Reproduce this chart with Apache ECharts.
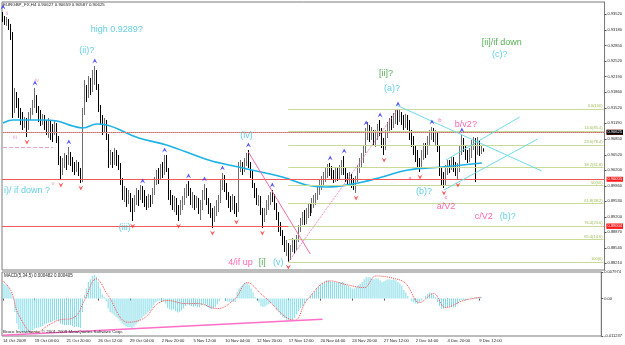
<!DOCTYPE html>
<html>
<head>
<meta charset="utf-8">
<script src="https://cdn.jsdelivr.net/npm/echarts@6/dist/echarts.min.js"></script>
<style>
    html, body {margin: 0; padding: 0; background: #fff;}
    #chart {width: 625px; height: 345px;}
</style>
</head>
<body>
<div id="chart"></div>
<script>
// EURGBP H4 bars, one entry per bar: [open, close, low, high]
var bars = [
    [0.93499,0.93435,0.93349,0.93562],[0.93435,0.93349,0.93286,0.93477],[0.93349,0.93392,0.93264,0.93456],
    [0.93392,0.93264,0.93179,0.93413],[0.93264,0.93051,0.92966,0.93307],[0.93051,0.91475,0.91305,0.93136],
    [0.91475,0.91795,0.91411,0.91944],[0.91795,0.91688,0.91518,0.91858],[0.91688,0.91432,0.91305,0.91731],
    [0.91432,0.91305,0.91156,0.91518],[0.91305,0.91156,0.91049,0.91432],[0.91156,0.91262,0.91092,0.91326],
    [0.91262,0.91092,0.90900,0.91305],[0.91092,0.91305,0.91049,0.91432],[0.91305,0.91432,0.91262,0.91518],
    [0.91432,0.91582,0.91369,0.91688],[0.91582,0.91731,0.91518,0.91944],[0.91731,0.91475,0.91411,0.91795],
    [0.91475,0.91369,0.91219,0.91560],[0.91369,0.91262,0.91134,0.91475],[0.91262,0.91305,0.91156,0.91390],
    [0.91305,0.91156,0.91049,0.91369],[0.91156,0.91049,0.90943,0.91262],[0.91049,0.91219,0.90879,0.91305],
    [0.91219,0.91092,0.90836,0.91262],[0.91092,0.91006,0.90793,0.91177],[0.91006,0.91156,0.90943,0.91262],
    [0.91156,0.90879,0.90772,0.91198],[0.90879,0.90410,0.90304,0.90921],[0.90410,0.90154,0.89984,0.90495],
    [0.90154,0.90304,0.90091,0.90453],[0.90304,0.90453,0.90240,0.90559],[0.90453,0.90367,0.90197,0.90517],
    [0.90367,0.90517,0.90304,0.90687],[0.90517,0.90410,0.90282,0.90580],[0.90410,0.90282,0.90154,0.90474],
    [0.90282,0.90197,0.90091,0.90367],[0.90197,0.90346,0.90154,0.90410],[0.90346,0.90154,0.90069,0.90367],
    [0.90154,0.90027,0.89920,0.90240],[0.90027,0.91432,0.89941,0.91518],[0.91432,0.91901,0.91369,0.92114],
    [0.91901,0.91795,0.91645,0.92008],[0.91795,0.92071,0.91731,0.92199],[0.92071,0.91944,0.91795,0.92157],
    [0.91944,0.92221,0.91858,0.92327],[0.92221,0.92284,0.92008,0.92412],[0.92284,0.92008,0.91901,0.92327],
    [0.92008,0.91518,0.91432,0.92029],[0.91518,0.91305,0.91156,0.91582],[0.91305,0.91092,0.90943,0.91369],
    [0.91092,0.91219,0.91006,0.91305],[0.91219,0.90943,0.90836,0.91262],[0.90943,0.90410,0.90240,0.90964],
    [0.90410,0.90517,0.90304,0.90623],[0.90517,0.90367,0.90240,0.90580],[0.90367,0.90580,0.90304,0.90666],
    [0.90580,0.90453,0.90282,0.90623],[0.90453,0.90304,0.90197,0.90517],[0.90304,0.89984,0.89878,0.90346],
    [0.89984,0.89665,0.89558,0.90027],[0.89665,0.89728,0.89515,0.89856],[0.89728,0.89558,0.89409,0.89814],
    [0.89558,0.89665,0.89473,0.89771],[0.89665,0.89452,0.89302,0.89707],[0.89452,0.89345,0.89111,0.89601],
    [0.89345,0.89558,0.89302,0.89665],[0.89558,0.89707,0.89452,0.89814],[0.89707,0.89601,0.89430,0.89771],
    [0.89601,0.89771,0.89558,0.89878],[0.89771,0.89686,0.89494,0.89856],[0.89686,0.89558,0.89409,0.89771],
    [0.89558,0.89452,0.89345,0.89643],[0.89452,0.89601,0.89388,0.89686],[0.89601,0.89515,0.89409,0.89665],
    [0.89515,0.89728,0.89473,0.89814],[0.89728,0.89941,0.89665,0.90048],[0.89941,0.90091,0.89878,0.90197],
    [0.90091,0.90027,0.89899,0.90240],[0.90027,0.90240,0.89984,0.90325],[0.90240,0.90154,0.90027,0.90367],
    [0.90154,0.90410,0.90091,0.90517],[0.90410,0.90197,0.90154,0.90517],[0.90197,0.89665,0.89558,0.90240],
    [0.89665,0.89601,0.89452,0.89771],[0.89601,0.89452,0.89345,0.89665],[0.89452,0.89558,0.89302,0.89643],
    [0.89558,0.89345,0.89239,0.89601],[0.89345,0.89302,0.89111,0.89452],[0.89302,0.89452,0.89239,0.89558],
    [0.89452,0.89558,0.89345,0.89643],[0.89558,0.89707,0.89452,0.89814],[0.89707,0.89814,0.89601,0.89899],
    [0.89814,0.89728,0.89643,0.89963],[0.89728,0.89558,0.89452,0.89814],[0.89558,0.89601,0.89388,0.89728],
    [0.89601,0.89452,0.89345,0.89665],[0.89452,0.89558,0.89388,0.89643],[0.89558,0.89345,0.89260,0.89601],
    [0.89345,0.89452,0.89132,0.89558],[0.89452,0.89665,0.89345,0.89771],[0.89665,0.89771,0.89558,0.89899],
    [0.89771,0.89558,0.89452,0.89814],[0.89558,0.89388,0.89260,0.89601],[0.89388,0.89302,0.89175,0.89494],
    [0.89302,0.89175,0.88962,0.89388],[0.89175,0.89302,0.89089,0.89430],[0.89302,0.89388,0.89217,0.89558],
    [0.89388,0.89558,0.89302,0.89665],[0.89558,0.89878,0.89494,0.89984],[0.89878,0.90027,0.89771,0.90133],
    [0.90027,0.89878,0.89728,0.90091],[0.89878,0.89665,0.89558,0.89920],[0.89665,0.89558,0.89388,0.89728],
    [0.89558,0.89452,0.89302,0.89643],[0.89452,0.89601,0.89345,0.89686],[0.89601,0.89388,0.89260,0.89643],
    [0.89388,0.89345,0.89196,0.89494],[0.89345,0.90240,0.89302,0.90367],[0.90240,0.90304,0.90154,0.90410],
    [0.90304,0.90197,0.90091,0.90367],[0.90197,0.90367,0.90154,0.90453],[0.90367,0.90453,0.90282,0.90559],
    [0.90453,0.90304,0.90240,0.90623],[0.90304,0.90154,0.90027,0.90367],[0.90154,0.89878,0.89814,0.90197],
    [0.89878,0.89728,0.89601,0.89920],[0.89728,0.89558,0.89452,0.89814],[0.89558,0.89601,0.89430,0.89665],
    [0.89601,0.89345,0.89239,0.89643],[0.89345,0.89175,0.88962,0.89388],[0.89175,0.89302,0.89089,0.89388],
    [0.89302,0.89452,0.89239,0.89558],[0.89452,0.89558,0.89345,0.89665],[0.89558,0.89665,0.89452,0.89728],
    [0.89665,0.89601,0.89515,0.89771],[0.89601,0.89452,0.89345,0.89686],[0.89452,0.89239,0.89132,0.89494],
    [0.89239,0.89026,0.88876,0.89302],[0.89026,0.88876,0.88791,0.89089],[0.88876,0.88706,0.88600,0.88919],
    [0.88706,0.88536,0.88450,0.88791],[0.88536,0.88600,0.88365,0.88706],[0.88600,0.88387,0.88237,0.88642],
    [0.88387,0.88493,0.88280,0.88600],[0.88493,0.88642,0.88450,0.88749],[0.88642,0.88557,0.88408,0.88706],
    [0.88557,0.88749,0.88493,0.88813],[0.88749,0.88962,0.88663,0.89026],[0.88962,0.89089,0.88876,0.89175],
    [0.89089,0.89239,0.89026,0.89302],[0.89239,0.89132,0.89026,0.89345],[0.89132,0.89302,0.89047,0.89388],
    [0.89302,0.89388,0.89175,0.89473],[0.89388,0.89345,0.89217,0.89494],[0.89345,0.89494,0.89281,0.89601],
    [0.89494,0.89558,0.89388,0.89665],[0.89558,0.89622,0.89452,0.89707],[0.89622,0.89771,0.89558,0.89856],
    [0.89771,0.89878,0.89665,0.89984],[0.89878,0.89984,0.89771,0.90069],[0.89984,0.90027,0.89856,0.90154],
    [0.90027,0.90154,0.89941,0.90240],[0.90154,0.90240,0.90027,0.90325],[0.90240,0.90197,0.90069,0.90346],
    [0.90197,0.90091,0.89984,0.90282],[0.90091,0.90027,0.89920,0.90197],[0.90027,0.90154,0.89941,0.90240],
    [0.90154,0.90069,0.89963,0.90240],[0.90069,0.90197,0.89984,0.90304],[0.90197,0.90304,0.90091,0.90410],
    [0.90304,0.90197,0.90091,0.90495],[0.90197,0.90027,0.89941,0.90240],[0.90027,0.89984,0.89856,0.90133],
    [0.89984,0.90069,0.89899,0.90154],[0.90069,0.89941,0.89814,0.90112],[0.89941,0.89878,0.89771,0.90027],
    [0.89878,0.89984,0.89707,0.90069],[0.89984,0.90197,0.89941,0.90304],[0.90197,0.90367,0.90133,0.90453],
    [0.90367,0.90410,0.90240,0.90559],[0.90410,0.90623,0.90346,0.90730],[0.90623,0.90943,0.90559,0.91092],
    [0.90943,0.91092,0.90836,0.91219],[0.91092,0.90943,0.90793,0.91156],[0.90943,0.91006,0.90836,0.91113],
    [0.91006,0.90836,0.90730,0.91049],[0.90836,0.90943,0.90687,0.91049],[0.90943,0.91092,0.90836,0.91177],
    [0.91092,0.91049,0.90921,0.91262],[0.91049,0.90793,0.90666,0.91092],[0.90793,0.90730,0.90517,0.90879],
    [0.90730,0.90943,0.90623,0.91049],[0.90943,0.91092,0.90879,0.91219],[0.91092,0.91219,0.91006,0.91305],
    [0.91219,0.91156,0.91049,0.91347],[0.91156,0.91305,0.91092,0.91411],[0.91305,0.91369,0.91177,0.91475],
    [0.91369,0.91305,0.91156,0.91496],[0.91305,0.91411,0.91219,0.91496],[0.91411,0.91262,0.91156,0.91432],
    [0.91262,0.91156,0.91049,0.91369],[0.91156,0.91305,0.91092,0.91390],[0.91305,0.91219,0.91049,0.91369],
    [0.91219,0.90943,0.90836,0.91262],[0.90943,0.90836,0.90687,0.91049],[0.90836,0.90623,0.90517,0.90921],
    [0.90623,0.90517,0.90367,0.90730],[0.90517,0.90367,0.90240,0.90623],[0.90367,0.90304,0.90154,0.90453],
    [0.90304,0.90517,0.90240,0.90623],[0.90517,0.90666,0.90410,0.90772],[0.90666,0.90623,0.90453,0.90772],
    [0.90623,0.90836,0.90517,0.90921],[0.90836,0.90943,0.90730,0.91049],[0.90943,0.91006,0.90836,0.91113],
    [0.91006,0.90879,0.90793,0.91092],[0.90879,0.90943,0.90730,0.91049],[0.90943,0.90666,0.90580,0.90985],
    [0.90666,0.90197,0.90069,0.90708],[0.90197,0.90027,0.89878,0.90240],[0.90027,0.89920,0.89814,0.90154],
    [0.89920,0.90154,0.89878,0.90304],[0.90154,0.90304,0.90091,0.90410],[0.90304,0.90240,0.90133,0.90410],
    [0.90240,0.90410,0.90197,0.90474],[0.90410,0.90304,0.90154,0.90474],[0.90304,0.90154,0.90069,0.90367],
    [0.90154,0.90197,0.89984,0.90346],[0.90197,0.90623,0.90154,0.90730],[0.90623,0.90793,0.90517,0.90943],
    [0.90793,0.90666,0.90580,0.90879],[0.90666,0.90517,0.90410,0.90730],[0.90517,0.90410,0.90346,0.90623],
    [0.90410,0.90580,0.90367,0.90666],[0.90580,0.90730,0.90453,0.90836],[0.90730,0.90836,0.90623,0.90900],
    [0.90836,0.90666,0.89941,0.90879],[0.90666,0.90793,0.90517,0.90900],[0.90793,0.90623,0.90495,0.90836],
    [0.90623,0.90666,0.90538,0.90730],[0.90627,0.90625,0.90587,0.90659]
];

// moving average, [bar index, value]
var maPoints = [
    [0,0.91198],[5,0.91262],[20,0.91262],[27,0.91241],[35,0.91134],[40,0.91092],[47,0.91177],
    [52,0.91156],[68,0.90879],[82,0.90730],[103,0.90410],[118,0.90261],[140,0.90048],[152,0.89878],
    [162,0.89835],[178,0.89920],[190,0.90048],[203,0.90197],[220,0.90261],[240,0.90346]
];

// MACD(5,34,5) main values, one per bar
var macdHist = [
    0.0045,0.0042,0.0040,0.0033,0.0020,0.0005,
    -0.0040,-0.0075,-0.0092,-0.0098,-0.0100,-0.0101,
    -0.0102,-0.0100,-0.0098,-0.0095,-0.0090,-0.0088,
    -0.0087,-0.0085,-0.0082,-0.0078,-0.0075,-0.0072,
    -0.0070,-0.0068,-0.0066,-0.0065,-0.0068,-0.0075,
    -0.0078,-0.0080,-0.0080,-0.0079,-0.0080,-0.0082,
    -0.0085,-0.0084,-0.0086,-0.0088,-0.0040,0.0010,
    0.0030,0.0050,0.0058,0.0068,0.0070,0.0066,
    0.0050,0.0030,0.0012,0.0005,-0.0008,-0.0030,
    -0.0040,-0.0045,-0.0050,-0.0055,-0.0060,-0.0068,
    -0.0075,-0.0080,-0.0084,-0.0085,-0.0086,-0.0088,
    -0.0084,-0.0078,-0.0072,-0.0065,-0.0058,-0.0052,
    -0.0048,-0.0042,-0.0038,-0.0030,-0.0020,-0.0012,
    -0.0008,-0.0006,-0.0010,-0.0008,-0.0015,-0.0028,
    -0.0032,-0.0035,-0.0033,-0.0038,-0.0042,-0.0040,
    -0.0036,-0.0030,-0.0022,-0.0018,-0.0020,-0.0022,
    -0.0024,-0.0022,-0.0025,-0.0026,-0.0020,-0.0016,
    -0.0020,-0.0025,-0.0028,-0.0032,-0.0030,-0.0026,
    -0.0018,-0.0008,0.0002,0.0000,-0.0006,-0.0008,
    -0.0010,-0.0008,-0.0010,-0.0010,0.0020,0.0030,
    0.0036,0.0042,0.0046,0.0048,0.0042,0.0030,
    0.0018,0.0005,-0.0003,-0.0012,-0.0022,-0.0025,
    -0.0024,-0.0020,-0.0016,-0.0014,-0.0018,-0.0025,
    -0.0035,-0.0042,-0.0050,-0.0056,-0.0058,-0.0064,
    -0.0066,-0.0065,-0.0064,-0.0058,-0.0048,-0.0038,
    -0.0028,-0.0022,-0.0014,-0.0006,0.0002,0.0010,
    0.0016,0.0022,0.0030,0.0036,0.0042,0.0046,
    0.0050,0.0054,0.0054,0.0052,0.0050,0.0050,
    0.0048,0.0048,0.0050,0.0050,0.0045,0.0040,
    0.0038,0.0034,0.0030,0.0030,0.0034,0.0040,
    0.0044,0.0050,0.0058,0.0064,0.0064,0.0065,
    0.0060,0.0058,0.0060,0.0060,0.0055,0.0050,
    0.0052,0.0055,0.0058,0.0058,0.0056,0.0058,
    0.0055,0.0050,0.0046,0.0038,0.0026,0.0018,
    0.0008,0.0000,-0.0008,-0.0012,-0.0015,-0.0016,
    -0.0012,-0.0006,0.0000,0.0008,0.0014,0.0018,
    0.0016,0.0012,0.0004,-0.0010,-0.0022,-0.0030,
    -0.0030,-0.0028,-0.0026,-0.0026,-0.0025,-0.0026,
    -0.0026,-0.0018,-0.0008,-0.0004,-0.0004,-0.0006,
    -0.0004,0.0000,0.0003,0.0002,0.0004,0.0004,
    0.0005,0.0005
];

// MACD signal line, [bar index, value]
var macdSignal = [
    [0,0.0053],[4,0.0024],[8,-0.0050],[16,-0.0104],[23,-0.0080],[28,-0.0065],[36,-0.0056],
    [41,-0.0006],[47,0.0059],[53,0.0009],[63,-0.0071],[71,-0.0059],[78,-0.0015],[83,-0.0006],
    [92,-0.0015],[98,-0.0015],[108,-0.0030],[117,0.0000],[123,0.0048],[131,0.0009],[147,-0.0065],
    [153,-0.0006],[165,0.0053],[173,0.0042],[182,0.0033],[188,0.0068],[198,0.0059],[203,0.0045],
    [210,-0.0012],[217,0.0015],[223,-0.0027],[232,-0.0006],[241,0.0004]
];

var dateLabels = ['14 Oct 2009', '19 Oct 04:00', '21 Oct 20:00', '26 Oct 12:00', '29 Oct 04:00',
    '2 Nov 20:00', '5 Nov 12:00', '10 Nov 04:00', '12 Nov 20:00', '17 Nov 12:00', '20 Nov 04:00',
    '24 Nov 20:00', '27 Nov 12:00', '2 Dec 04:00', '4 Dec 20:00', '9 Dec 12:00'];
var priceTicks = [0.93520, 0.93180, 0.92850, 0.92520, 0.92190, 0.91860, 0.91520, 0.91190, 0.90850,
    0.90520, 0.90200, 0.89860, 0.89530, 0.89200, 0.88870, 0.88540, 0.88210];
var macdTicks = [0.007974, 0, -0.011237];

var redLevels = [0.90879, 0.90005, 0.89473, 0.89004];
var bidPrice = 0.90625;
var fibValues = [0.91496, 0.91020, 0.90727, 0.90251, 0.89867, 0.89482, 0.89006, 0.88713, 0.88237];
var fibNames = ['0.0(100)', '14.6(85.4)', '23.6(76.4)', '38.2(61.8)', '50(50)', '61.8(38.2)',
    '76.4(23.6)', '85.4(14.6)', '100(0)'];

// fractal bars
var fractalUp = [0, 16, 33, 46, 70, 81, 93, 101, 110, 123, 135, 164, 171, 182, 189, 198, 215, 230];
var fractalDown = [12, 29, 39, 65, 88, 105, 117, 130, 143, 177, 191, 209, 221, 228];

// wave labels: text, bar index, price, style
var notes = [
    ['ii', 2, 0.93540, 'pl'], ['high 0.9289?', 56.5, 0.93179, 'c'], ['(ii)?', 42, 0.92732, 'c'],
    ['iv', 16.5, 0.92114, 'pl'], ['iii', 6, 0.90900, 'pl'], ['v', 24.5, 0.89920, 'pl'],
    ['i)/ if down ?', 11.5, 0.89750, 'c'], ['(iii)', 60.5, 0.88962, 'c'], ['(iv)', 121.5, 0.90921, 'c'],
    ['4/if up', 118.5, 0.88216, 'p'], ['[i]', 129.5, 0.88216, 'g'], ['(v)', 138, 0.88216, 'c'],
    ['[ii]?', 191.5, 0.92242, 'g'], ['(a)?', 194.5, 0.91922, 'c'], ['[ii]/if down', 249.5, 0.92902, 'g'],
    ['(c)?', 248.5, 0.92646, 'c'], ['b', 218.5, 0.91262, 'ps'], ['b/v2?', 232, 0.91156, 'p'],
    ['a', 204, 0.90027, 'ps'], ['(b)?', 210.5, 0.89728, 'c'], ['c', 221.5, 0.89622, 'ps'],
    ['a/V2', 222, 0.89409, 'p'], ['c/V2', 241, 0.89196, 'p'], ['(b)?', 252.5, 0.89196, 'c']
];

// drawn trend lines: from, to, colour, style
var trendLines = [
    [[123, 0.90580], [154, 0.88408], '#f06cb0', 'solid'],
    [[143, 0.88237], [198, 0.91496], '#f06cb0', 'dotted'],
    [[197, 0.91582], [270, 0.90176], '#70dce8', 'solid'],
    [[221, 0.89771], [268, 0.90857], '#70dce8', 'solid'],
    [[222, 0.90410], [259, 0.91326], '#70dce8', 'solid'],
    [[0, 0.90687], [25, 0.90687], '#f0a0cc', 'dashed']
];
var macdTrend = [[0, -0.0110], [161, -0.0062]];

var font = '"Liberation Sans", Arial, sans-serif';
var slots = [];
for (var k = 0; k < 302; k++) slots.push(String(k));

var noteStyle = {
    c:  {color: '#3cc3dc', fontSize: 9},
    g:  {color: '#2d992d', fontSize: 9},
    p:  {color: '#ff3c9c', fontSize: 9},
    ps: {color: '#ff3c9c', fontSize: 6},
    pl: {color: '#ee88c4', fontSize: 6}
};

var lineMarks = [];
redLevels.forEach(function (v) {
    lineMarks.push({
        yAxis: v,
        lineStyle: {color: '#f25a5a', width: 1, type: 'solid'},
        label: {show: true, position: 'end', distance: 2, formatter: v.toFixed(5),
            backgroundColor: '#ff1a1a', color: '#fff', fontSize: 4, fontFamily: font, padding: [1, 1, 0, 1]}
    });
});
lineMarks.push({
    yAxis: bidPrice,
    lineStyle: {color: '#b0b0b0', width: 1, type: 'dotted'},
    label: {show: true, position: 'end', distance: 2, formatter: bidPrice.toFixed(5),
        backgroundColor: '#000', color: '#fff', fontSize: 4, fontFamily: font, padding: [1, 1, 0, 1]}
});
fibValues.forEach(function (v, n) {
    lineMarks.push([
        {coord: [143, v], lineStyle: {color: '#c8dc98', width: 1, type: 'solid'},
         label: {show: true, position: 'insideEndTop', distance: 1, formatter: fibNames[n],
            color: '#9cbc50', fontSize: 4, fontFamily: font}},
        {coord: [301, v]}
    ]);
});
trendLines.forEach(function (t) {
    lineMarks.push([
        {coord: t[0], lineStyle: {color: t[2], width: 1, type: t[3]}, label: {show: false}},
        {coord: t[1]}
    ]);
});

var option = {
    animation: false,
    backgroundColor: '#ffffff',
    textStyle: {fontFamily: font},
    grid: [
        {left: 2, top: 2, width: 605, height: 268, show: true, borderColor: '#7a7a7a', borderWidth: 1},
        {left: 2, top: 272, width: 605, height: 64, show: true, borderColor: '#7a7a7a', borderWidth: 1}
    ],
    graphic: [
        {type: 'text', left: 3, top: 3, z: 10,
         style: {text: 'EURGBP_FX,H4 0.90627 0.90659 0.90587 0.90625', fill: '#222', font: '4.4px ' + font}},
        {type: 'text', left: 4, top: 273, z: 10,
         style: {text: 'MACD(5,34,5) 0.000482 0.000405', fill: '#222', font: '4.5px ' + font}},
        {type: 'text', left: 3, top: 330, z: 10,
         style: {text: 'Broco Investments, \u00a9 2001-2009 MetaQuotes Software Corp.', fill: '#222', font: '4.4px ' + font}}
    ],
    xAxis: [
        {type: 'category', gridIndex: 0, data: slots, boundaryGap: true,
         axisLine: {show: false}, axisTick: {show: false}, axisLabel: {show: false}, splitLine: {show: false}},
        {type: 'category', gridIndex: 1, data: slots, boundaryGap: true,
         axisLine: {show: false},
         axisTick: {show: true, alignWithLabel: true, length: 2, lineStyle: {color: '#555'},
            interval: function (idx) { return idx % 16 === 0 && idx / 16 < dateLabels.length; }},
         axisLabel: {show: true, align: 'left', margin: 3, fontSize: 4.2, color: '#222',
            interval: function (idx) { return idx % 16 === 0 && idx / 16 < dateLabels.length; },
            formatter: function (v, idx) { return dateLabels[idx / 16] || ''; }},
         splitLine: {show: false}}
    ],
    yAxis: [
        {type: 'value', gridIndex: 0, position: 'right', min: 0.88067, max: 0.93775,
         axisLine: {show: true, lineStyle: {color: '#7a7a7a'}},
         axisTick: {show: true, length: 2, customValues: priceTicks, lineStyle: {color: '#555'}},
         axisLabel: {customValues: priceTicks, margin: 3, fontSize: 4, color: '#222',
            formatter: function (v) { return v.toFixed(5); }},
         splitLine: {show: false}},
        {type: 'value', gridIndex: 1, position: 'right', min: -0.011237, max: 0.007974,
         axisLine: {show: true, lineStyle: {color: '#7a7a7a'}},
         axisTick: {show: true, length: 2, customValues: macdTicks, lineStyle: {color: '#555'}},
         axisLabel: {customValues: macdTicks, margin: 3, fontSize: 4, color: '#222',
            formatter: function (v) { return v === 0 ? '0.00' : v.toFixed(6); }},
         splitLine: {show: false}}
    ],
    series: [
        {
            name: 'levels', type: 'line', xAxisIndex: 0, yAxisIndex: 0, data: [], z: 4,
            markLine: {silent: true, symbol: ['none', 'none'], animation: false, data: lineMarks}
        },
        {
            name: 'EURGBP', type: 'candlestick', xAxisIndex: 0, yAxisIndex: 0,
            data: bars, barWidth: 1, z: 3,
            itemStyle: {color: '#bdbdbd', color0: '#000', borderColor: '#6e6e6e', borderColor0: '#000', borderWidth: 1}
        },
        {
            name: 'MA', type: 'line', xAxisIndex: 0, yAxisIndex: 0, data: maPoints,
            smooth: 0.4, showSymbol: false, z: 4,
            lineStyle: {color: '#1cb2e6', width: 1.6}
        },
        {
            name: 'fractal up', type: 'scatter', xAxisIndex: 0, yAxisIndex: 0, z: 5,
            data: fractalUp.map(function (i) { return [i, bars[i][3]]; }),
            symbol: 'path://M0,10 L5,0 L10,10 L5,6 Z', symbolSize: [5, 5], symbolOffset: [0, -5],
            itemStyle: {color: '#2a2aff'}
        },
        {
            name: 'fractal down', type: 'scatter', xAxisIndex: 0, yAxisIndex: 0, z: 5,
            data: fractalDown.map(function (i) { return [i, bars[i][2]]; }),
            symbol: 'path://M0,0 L5,10 L10,0 L5,4 Z', symbolSize: [5, 5], symbolOffset: [0, 5],
            itemStyle: {color: '#ff2a2a'}
        },
        {
            name: 'notes', type: 'scatter', xAxisIndex: 0, yAxisIndex: 0, z: 6, clip: false,
            symbolSize: 1, itemStyle: {color: 'rgba(0,0,0,0)'},
            data: notes.map(function (n) {
                var s = noteStyle[n[3]];
                return {value: [n[1], n[2]],
                    label: {show: true, position: 'inside', formatter: n[0], color: s.color,
                        fontSize: s.fontSize, fontFamily: font}};
            })
        },
        {
            name: 'MACD', type: 'bar', xAxisIndex: 1, yAxisIndex: 1, data: macdHist,
            barWidth: 1, itemStyle: {color: '#7fdbe8'},
            markLine: {silent: true, symbol: ['none', 'none'], animation: false,
                data: [[{coord: macdTrend[0], lineStyle: {color: '#ff6ec7', width: 1.5, type: 'solid'}, label: {show: false}},
                        {coord: macdTrend[1]}]]}
        },
        {
            name: 'Signal', type: 'line', xAxisIndex: 1, yAxisIndex: 1, data: macdSignal,
            smooth: 0.4, showSymbol: false, z: 4,
            lineStyle: {color: '#ff4a4a', width: 1, type: 'dotted'}
        }
    ]
};

var myChart = echarts.init(document.getElementById('chart'));
myChart.setOption(option);
</script>
</body>
</html>
